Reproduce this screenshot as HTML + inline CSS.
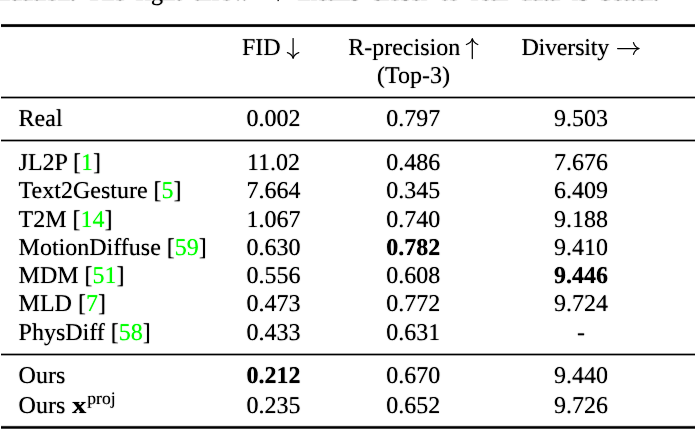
<!DOCTYPE html>
<html><head><meta charset="utf-8">
<style>
html,body{margin:0;padding:0;background:#fff;}
body{width:696px;height:429px;position:relative;overflow:hidden; text-rendering:geometricPrecision;font-family:"Liberation Serif",serif;font-size:24px;color:#000;}
.t{position:absolute;line-height:28px;white-space:nowrap;}
.cc{width:200px;text-align:center;}
.g{color:#00ff00;}
.b{font-weight:bold;}
.sup{font-size:17.6px;position:relative;top:-9px;}
.bx{display:inline-block;width:15.2px;margin-left:0.8px;}
.bx span{display:inline-block;transform:scaleX(1.2);transform-origin:0 0;}
.r{position:absolute;left:1px;width:694px;}
.cap{position:absolute;top:-21px;line-height:28px;white-space:nowrap;}
</style></head><body>
<svg width="0" height="0" style="position:absolute"><filter id="f" x="0" y="0" width="100%" height="100%" color-interpolation-filters="sRGB"><feComponentTransfer><feFuncR type="table" tableValues="1 0"/><feFuncG type="table" tableValues="1 0"/><feFuncB type="table" tableValues="1 0"/></feComponentTransfer><feConvolveMatrix order="3" kernelMatrix="0.01 0.06 0.01 0.06 1 0.06 0.01 0.06 0.01" divisor="1" preserveAlpha="true" edgeMode="none"/><feComponentTransfer><feFuncR type="table" tableValues="1 0"/><feFuncG type="table" tableValues="1 0"/><feFuncB type="table" tableValues="1 0"/></feComponentTransfer></filter></svg><div id="w" style="position:absolute;left:0;top:0;width:696px;height:429px;background:#fff;filter:url(#f);">
<div class="cap" style="right:620px">during evaluation.</div>
<div class="cap" style="left:87px;word-spacing:6.1px">The right arrow <span style="color:transparent">&#8594;</span> means closer to real data is better.</div>
<div class="t" style="left:242.0px;top:33.7px">FID</div>
<div class="t" style="left:348.2px;top:33.7px">R-precision</div>
<div class="t" style="left:377.0px;top:61.8px">(Top-3)</div>
<div class="t" style="left:521.4px;top:33.7px;letter-spacing:-0.18px">Diversity</div>
<div class="t" style="left:18.6px;top:105.0px">Real</div>
<div class="t cc" style="left:173.5px;top:105.0px">0.002</div>
<div class="t cc" style="left:313.3px;top:105.0px">0.797</div>
<div class="t cc" style="left:481.0px;top:105.0px">9.503</div>
<div class="t" style="left:18.6px;top:148.9px">JL2P [<span class="g">1</span>]</div>
<div class="t cc" style="left:173.5px;top:148.9px">11.02</div>
<div class="t cc" style="left:313.3px;top:148.9px">0.486</div>
<div class="t cc" style="left:481.0px;top:148.9px">7.676</div>
<div class="t" style="left:18.6px;top:177.2px">Text2Gesture [<span class="g">5</span>]</div>
<div class="t cc" style="left:173.5px;top:177.2px">7.664</div>
<div class="t cc" style="left:313.3px;top:177.2px">0.345</div>
<div class="t cc" style="left:481.0px;top:177.2px">6.409</div>
<div class="t" style="left:18.6px;top:205.5px">T2M [<span class="g">14</span>]</div>
<div class="t cc" style="left:173.5px;top:205.5px">1.067</div>
<div class="t cc" style="left:313.3px;top:205.5px">0.740</div>
<div class="t cc" style="left:481.0px;top:205.5px">9.188</div>
<div class="t" style="left:18.6px;top:233.8px">MotionDiffuse [<span class="g">59</span>]</div>
<div class="t cc" style="left:173.5px;top:233.8px">0.630</div>
<div class="t cc b" style="left:313.3px;top:233.8px">0.782</div>
<div class="t cc" style="left:481.0px;top:233.8px">9.410</div>
<div class="t" style="left:18.6px;top:262.1px">MDM [<span class="g">51</span>]</div>
<div class="t cc" style="left:173.5px;top:262.1px">0.556</div>
<div class="t cc" style="left:313.3px;top:262.1px">0.608</div>
<div class="t cc b" style="left:481.0px;top:262.1px">9.446</div>
<div class="t" style="left:18.6px;top:290.4px">MLD [<span class="g">7</span>]</div>
<div class="t cc" style="left:173.5px;top:290.4px">0.473</div>
<div class="t cc" style="left:313.3px;top:290.4px">0.772</div>
<div class="t cc" style="left:481.0px;top:290.4px">9.724</div>
<div class="t" style="left:18.6px;top:318.7px">PhysDiff [<span class="g">58</span>]</div>
<div class="t cc" style="left:173.5px;top:318.7px">0.433</div>
<div class="t cc" style="left:313.3px;top:318.7px">0.631</div>
<div class="t cc" style="left:481.0px;top:318.7px">-</div>
<div class="t" style="left:18.6px;top:362.0px">Ours</div>
<div class="t cc b" style="left:173.5px;top:362.0px">0.212</div>
<div class="t cc" style="left:313.3px;top:362.0px">0.670</div>
<div class="t cc" style="left:481.0px;top:362.0px">9.440</div>
<div class="t" style="left:18.6px;top:391.6px">Ours <span class="b bx"><span>x</span></span><span class="sup">proj</span></div>
<div class="t cc" style="left:173.5px;top:391.6px">0.235</div>
<div class="t cc" style="left:313.3px;top:391.6px">0.652</div>
<div class="t cc" style="left:481.0px;top:391.6px">9.726</div>
</div>
<div class="r" style="top:23px;height:5px;background:linear-gradient(#fafafa 0px 1px,#323232 1px 2px,#000000 2px 3px,#141414 3px 4px,#f0f0f0 4px 5px)"></div>
<svg class="ar" width="696" height="100" viewBox="0 0 696 100" style="position:absolute;left:0;top:0">
<g fill="none" stroke="#000" stroke-width="1.25" stroke-linecap="round" stroke-linejoin="round">
<path d="M293.1 38.6 V57.6"/>
<path d="M287.4 52.7 C289.8 53.4 292.2 55.4 293.1 58.3 C294.0 55.4 296.4 53.4 298.8 52.7"/>
<path d="M472.3 39.5 V58.6"/>
<path d="M466.4 44.5 C468.8 43.8 471.4 41.8 472.3 38.7 C473.2 41.8 475.8 43.8 477.8 44.5"/>
<path d="M617.6 48.5 H638.5"/>
<path d="M262 -5.2 H283"/>
<path d="M278.1 -11.1 C278.8 -8.7 280.9 -6.1 283.7 -5.2 C280.9 -4.3 278.8 -1.7 278.1 0.7"/>
<path d="M633.5 42.6 C634.2 45 636.3 47.6 639.1 48.5 C636.3 49.4 634.2 52 633.5 54.4"/>
</g></svg>
<div class="r" style="top:96px;height:3px;background:linear-gradient(#a5a5a5 0px 1px,#000000 1px 2px,#a5a5a5 2px 3px)"></div>
<div class="r" style="top:139px;height:3px;background:linear-gradient(#a5a5a5 0px 1px,#000000 1px 2px,#a5a5a5 2px 3px)"></div>
<div class="r" style="top:353px;height:3px;background:linear-gradient(#a5a5a5 0px 1px,#000000 1px 2px,#a5a5a5 2px 3px)"></div>
<div class="r" style="top:425px;height:4px;background:linear-gradient(#e6e6e6 0px 1px,#323232 1px 2px,#000000 2px 3px,#464646 3px 4px)"></div>
</body></html>
